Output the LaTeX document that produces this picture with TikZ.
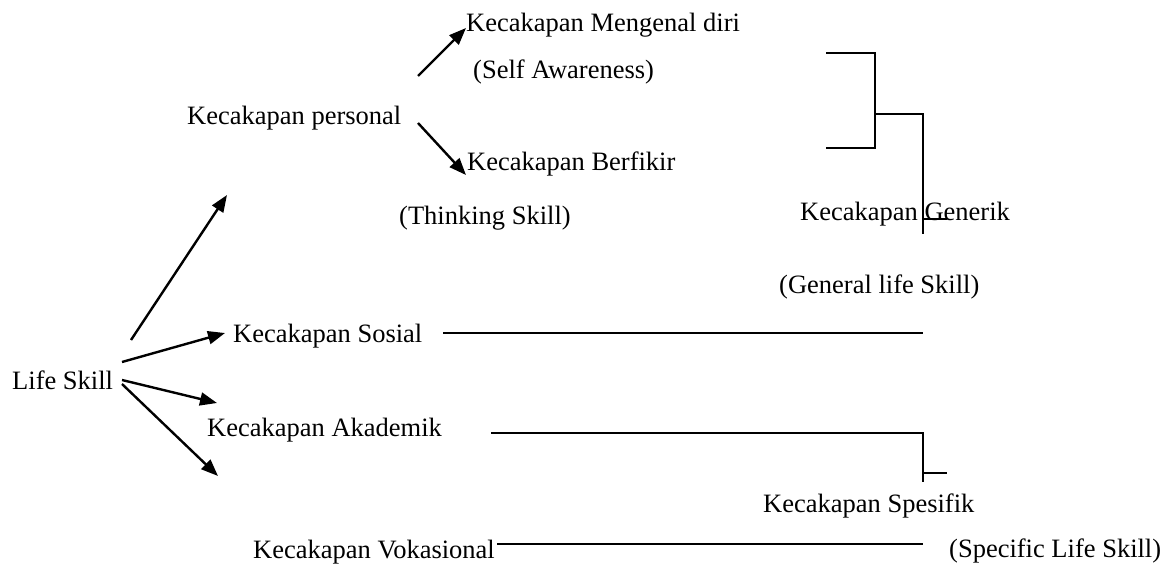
\documentclass[tikz,border=0pt]{standalone}
\usepackage{fontspec}
\setmainfont{Liberation Serif}
\usetikzlibrary{arrows.meta}
\begin{document}
\begin{tikzpicture}[x=1pt,y=-1pt,
  lbl/.style={anchor=base west,inner sep=0pt,font=\fontsize{26.5}{30}\selectfont},
  arr/.style={line width=2.4pt,-{Triangle[length=17pt,width=13pt]}},
  ln/.style={line width=2pt}]
\useasboundingbox (0,0) rectangle (1168,567);
% text nodes
\node[lbl] (life) at (12,389) {Life Skill};
\node[lbl] (pers) at (187,125) {Kecakapan personal};
\node[lbl] (meng) at (466,32) {Kecakapan Mengenal diri};
\node[lbl] (self) at (473,79) {(Self Awareness)};
\node[lbl] (berf) at (467,171) {Kecakapan Berfikir};
\node[lbl] (think) at (399,224) {(Thinking Skill)};
\node[lbl] (gen) at (800,221) {Kecakapan Generik};
\node[lbl] (genl) at (779,293) {(General life Skill)};
\node[lbl] (sos) at (233,342) {Kecakapan Sosial};
\node[lbl] (akad) at (207,436) {Kecakapan Akademik};
\node[lbl] (spes) at (763,512) {Kecakapan Spesifik};
\node[lbl] (vok) at (253,558) {Kecakapan Vokasional};
\node[lbl] (spesl) at (949,557) {(Specific Life Skill)};
% arrow end points
\coordinate (p1s) at (418,76);  \coordinate (p1e) at (466,28);
\coordinate (p2s) at (418,123); \coordinate (p2e) at (466,175);
\coordinate (l1s) at (131,340); \coordinate (l1e) at (227,195);
\coordinate (l2s) at (122,362); \coordinate (l2e) at (225,333);
\coordinate (l3s) at (122,380); \coordinate (l3e) at (217,403);
\coordinate (l4s) at (122,384); \coordinate (l4e) at (218,476);
\draw[arr] (p1s) -- (p1e);
\draw[arr] (p2s) -- (p2e);
\draw[arr] (l1s) -- (l1e);
\draw[arr] (l2s) -- (l2e);
\draw[arr] (l3s) -- (l3e);
\draw[arr] (l4s) -- (l4e);
% bracket for generik
\coordinate (b1) at (826,53);
\coordinate (b2) at (826,148);
\coordinate (bm) at (875,114);
\coordinate (gv) at (923,234);
\coordinate (gt) at (947,219);
\draw[ln] (b1) -- (b1 -| bm) -- (b2 -| bm) -- (b2);
\draw[ln] (bm) -- (bm -| gv) -- (gv);
\draw[ln] (gt -| gv) -- (gt);
% sosial line
\coordinate (s1) at (443,333);
\coordinate (s2) at (923,333);
\draw[ln] (s1) -- (s2);
% akademik / vokasional lines
\coordinate (a1) at (491,433);
\coordinate (av) at (923,482);
\coordinate (at) at (947,473);
\draw[ln] (a1) -- (a1 -| av) -- (av);
\draw[ln] (at -| av) -- (at);
\coordinate (v1) at (497,544);
\coordinate (v2) at (923,544);
\draw[ln] (v1) -- (v2);
\end{tikzpicture}
\end{document}
